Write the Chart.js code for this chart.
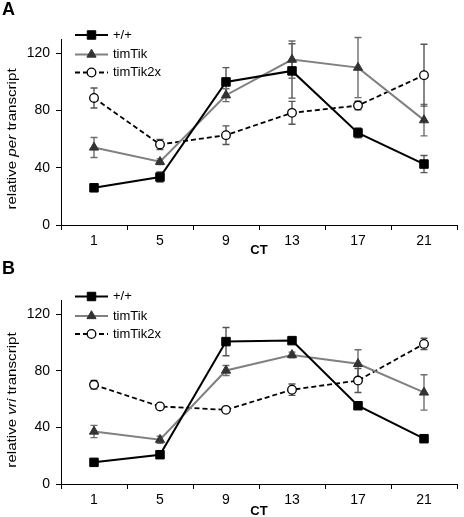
<!DOCTYPE html>
<html><head><meta charset="utf-8">
<script src="https://cdn.jsdelivr.net/npm/chart.js@4/dist/chart.umd.min.js"></script>
<style>
html,body{margin:0;padding:0;background:#fff;}
#wrap{position:relative;width:464px;height:517px;overflow:hidden;background:#fff}
.p{position:absolute;left:0;width:464px}
canvas{display:block}
</style></head><body>
<div id="wrap">
<div class="p" style="top:0;height:259px"><canvas id="cA" width="464" height="259"></canvas></div>
<div class="p" style="top:259px;height:258px"><canvas id="cB" width="464" height="258"></canvas></div>
</div>
<script>
// ---- data ----
const categories = ['1', '5', '9', '13', '17', '21'];
const yTicks = [0, 40, 80, 120];
const seriesNames = ['+/+', 'timTik', 'timTik2x'];

// Panel A: relative per transcript
const perWT       = [26, 33.5, 100, 107.7, 64.4, 42.6];
const perWTErr    = [1, 3.5, 10, 19, 3.5, 6];
const perTik      = [54.2, 44.2, 90.7, 115.6, 110, 73.3];
const perTikErr   = [7, 2, 4.5, 13, 21, 11];
const perTik2x    = [88.8, 56.3, 62.8, 78.4, 83.5, 104.7];
const perTik2xErr = [7, 3.5, 6.5, 8, 3, 21.6];

// Panel B: relative vri transcript
const vriWT       = [15.3, 20.7, 100.6, 101.3, 55.3, 32];
const vriWTErr    = [1, 2.5, 10, 1, 2, 1.5];
const vriTik      = [37.1, 31.3, 80.2, 91.2, 84.9, 64.7];
const vriTikErr   = [4.3, 2.5, 3.5, 2, 10, 12.5];
const vriTik2x    = [70.1, 54.8, 52.4, 66.6, 73.1, 99];
const vriTik2xErr = [3, 1, 1, 4, 8.5, 4];

// ---- styles ----
const FONT = '"Liberation Sans", Arial, Helvetica, sans-serif';
const styles = [
  {line:'#000000', width:2, dash:[], point:'rect', radius:6, fill:'#000000', stroke:'#000000', pbw:1, err:'#555555'},
  {line:'#808080', width:2, dash:[], point:'triangle', radius:5.3, fill:'#333333', stroke:'#333333', pbw:1, err:'#6e6e6e'},
  {line:'#000000', width:1.8, dash:[5,3], point:'circle', radius:4.3, fill:'#ffffff', stroke:'#000000', pbw:1.3, err:'#555555'}
];

function makeDatasets(vals, errs) {
  return vals.map((v, i) => ({
    label: seriesNames[i],
    data: v,
    errors: errs[i],
    borderColor: styles[i].line,
    borderWidth: styles[i].width,
    borderDash: styles[i].dash,
    pointStyle: styles[i].point,
    pointRadius: styles[i].radius,
    pointHoverRadius: styles[i].radius,
    pointBackgroundColor: styles[i].fill,
    pointBorderColor: styles[i].stroke,
    pointBorderWidth: styles[i].pbw,
    tension: 0,
    fill: false,
    clip: false
  }));
}

function drawMarker(ctx, style, x, y, r, fill, stroke, bw) {
  ctx.save();
  ctx.fillStyle = fill; ctx.strokeStyle = stroke; ctx.lineWidth = bw; ctx.setLineDash([]);
  ctx.beginPath();
  if (style === 'rect') {
    const s = r * Math.SQRT1_2;
    ctx.rect(x - s, y - s, 2 * s, 2 * s);
  } else if (style === 'triangle') {
    const a = -Math.PI / 2;
    for (let k = 0; k < 3; k++) {
      const ang = a + k * 2 * Math.PI / 3;
      const px = x + Math.cos(ang) * r, py = y + Math.sin(ang) * r;
      if (k === 0) ctx.moveTo(px, py); else ctx.lineTo(px, py);
    }
    ctx.closePath();
  } else {
    ctx.arc(x, y, r, 0, Math.PI * 2);
  }
  ctx.fill(); ctx.stroke();
  ctx.restore();
}

const errorBars = {
  id: 'errorBars',
  beforeDatasetsDraw(chart) {
    const ctx = chart.ctx, ys = chart.scales.y;
    chart.data.datasets.forEach((ds, i) => {
      const meta = chart.getDatasetMeta(i);
      ctx.save();
      ctx.strokeStyle = styles[i].err; ctx.lineWidth = 1.4; ctx.setLineDash([]);
      ds.data.forEach((v, j) => {
        const e = ds.errors[j];
        const x = meta.data[j].x;
        const y1 = ys.getPixelForValue(v + e), y2 = ys.getPixelForValue(v - e);
        ctx.beginPath();
        ctx.moveTo(x, y1); ctx.lineTo(x, y2);
        ctx.moveTo(x - 3.5, y1); ctx.lineTo(x + 3.5, y1);
        ctx.moveTo(x - 3.5, y2); ctx.lineTo(x + 3.5, y2);
        ctx.stroke();
      });
      ctx.restore();
    });
  }
};

const deco = {
  id: 'deco',
  afterDraw(chart, args, opts) {
    const ctx = chart.ctx, ca = chart.chartArea;
    ctx.save();
    // panel letter
    ctx.fillStyle = '#000';
    ctx.font = 'bold 18px ' + FONT;
    ctx.textAlign = 'left'; ctx.textBaseline = 'middle';
    ctx.fillText(opts.letter, 2, opts.letterY);
    // legend
    opts.legendY.forEach((ly, i) => {
      const s = styles[i];
      ctx.save();
      ctx.strokeStyle = s.line; ctx.lineWidth = s.width; ctx.setLineDash(s.dash);
      ctx.beginPath(); ctx.moveTo(75, ly); ctx.lineTo(108, ly); ctx.stroke();
      ctx.restore();
      drawMarker(ctx, s.point, 91.5, ly, s.radius, s.fill, s.stroke, s.pbw);
      ctx.fillStyle = '#000';
      ctx.font = '13px ' + FONT;
      ctx.textAlign = 'left'; ctx.textBaseline = 'middle';
      ctx.fillText(seriesNames[i], 113, ly);
    });
    // x title
    ctx.font = 'bold 13px ' + FONT;
    ctx.textAlign = 'center'; ctx.textBaseline = 'middle';
    ctx.fillText('CT', (ca.left + ca.right) / 2, opts.ctY);
    // y title with italic gene name
    const parts = [['relative ', false], [opts.gene, true], [' transcript', false]];
    ctx.save();
    ctx.translate(opts.yTitleX, opts.yTitleY);
    ctx.rotate(-Math.PI / 2);
    ctx.scale(1.12, 1);
    let total = 0;
    const widths = parts.map(p => { ctx.font = (p[1] ? 'italic ' : '') + '13.5px ' + FONT; const w = ctx.measureText(p[0]).width; total += w; return w; });
    let x = -total / 2;
    ctx.textAlign = 'left'; ctx.textBaseline = 'middle';
    parts.forEach((p, k) => { ctx.font = (p[1] ? 'italic ' : '') + '13.5px ' + FONT; ctx.fillText(p[0], x, 0); x += widths[k]; });
    ctx.restore();
    ctx.restore();
  }
};

function makeChart(id, vals, errs, decoOpts, topPad, xHeight) {
  return new Chart(document.getElementById(id), {
    type: 'line',
    data: { labels: categories, datasets: makeDatasets(vals, errs) },
    options: {
      responsive: false,
      devicePixelRatio: 1,
      animation: false,
      events: [],
      layout: { padding: { left: 0, right: 1, top: topPad, bottom: 0 } },
      plugins: { legend: { display: false }, tooltip: { enabled: false }, deco: decoOpts },
      scales: {
        x: {
          type: 'category',
          offset: true,
          grid: { display: true, drawOnChartArea: false, drawTicks: true, tickLength: 5, offset: true, color: '#000', lineWidth: 1 },
          border: { display: true, color: '#000', width: 1 },
          ticks: { color: '#000', font: { family: FONT, size: 14 }, padding: 3, maxRotation: 0, autoSkip: false },
          afterFit(s) { s.height = xHeight; }
        },
        y: {
          min: 0, max: 130,
          afterBuildTicks(s) { s.ticks = yTicks.map(v => ({ value: v })); },
          grid: { display: true, drawOnChartArea: false, drawTicks: true, tickLength: 5, color: '#000', lineWidth: 1 },
          border: { display: true, color: '#000', width: 1 },
          ticks: { color: '#000', font: { family: FONT, size: 14 }, padding: 6 },
          afterFit(s) { s.width = 61; }
        }
      }
    },
    plugins: [errorBars, deco]
  });
}

makeChart('cA', [perWT, perTik, perTik2x], [perWTErr, perTikErr, perTik2xErr],
  { letter: 'A', letterY: 10, legendY: [35, 54.5, 72.5], ctY: 250, gene: 'per', yTitleX: 12, yTitleY: 139 }, 39, 34);
makeChart('cB', [vriWT, vriTik, vriTik2x], [vriWTErr, vriTikErr, vriTik2xErr],
  { letter: 'B', letterY: 10, legendY: [37.5, 57, 75], ctY: 252, gene: 'vri', yTitleX: 12, yTitleY: 141 }, 41, 33);
</script>
</body></html>
